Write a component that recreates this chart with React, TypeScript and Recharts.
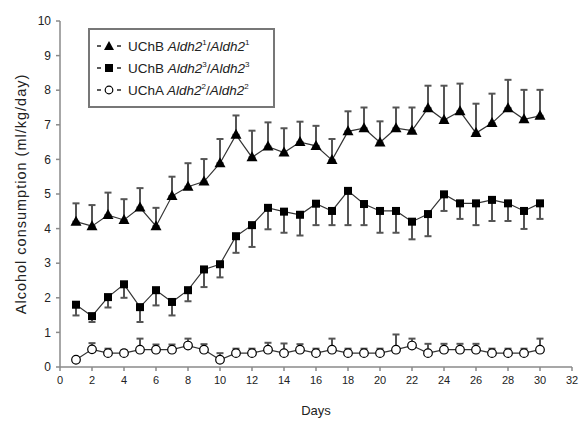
import { LineChart, Line, XAxis, YAxis, ErrorBar } from 'recharts';

const days = [1, 2, 3, 4, 5, 6, 7, 8, 9, 10, 11, 12, 13, 14, 15, 16, 17, 18, 19, 20, 21, 22, 23, 24, 25, 26, 27, 28, 29, 30];

// UChB Aldh2^1/Aldh2^1 (triangles), error drawn upward
const ucbOneMean = [4.2, 4.07, 4.39, 4.25, 4.61, 4.07, 4.94, 5.21, 5.36, 5.89, 6.71, 6.06, 6.37, 6.2, 6.5, 6.39, 5.98, 6.81, 6.9, 6.49, 6.9, 6.83, 7.48, 7.14, 7.39, 6.76, 7.05, 7.48, 7.16, 7.26];
const ucbOneUpper = [4.73, 4.68, 5.04, 4.85, 5.17, 4.6, 5.5, 5.89, 6.01, 6.59, 7.27, 6.83, 7.07, 6.9, 7.09, 6.97, 6.59, 7.39, 7.5, 7.1, 7.5, 7.5, 8.13, 8.13, 8.19, 7.61, 7.9, 8.3, 8.01, 8.01];

// UChB Aldh2^3/Aldh2^3 (squares), error drawn downward
const ucbThreeMean = [1.8, 1.47, 2.02, 2.39, 1.73, 2.22, 1.88, 2.22, 2.82, 2.97, 3.78, 4.1, 4.6, 4.49, 4.4, 4.72, 4.51, 5.09, 4.71, 4.51, 4.51, 4.2, 4.42, 4.99, 4.73, 4.73, 4.83, 4.73, 4.51, 4.73];
const ucbThreeLower = [1.49, 1.3, 1.72, 2.0, 1.3, 1.78, 1.49, 1.9, 2.31, 2.59, 3.3, 3.47, 3.98, 3.88, 3.8, 4.1, 4.1, 4.1, 4.1, 3.88, 3.88, 3.69, 3.78, 4.51, 4.28, 4.1, 4.22, 4.22, 3.99, 4.28];

// UChA Aldh2^2/Aldh2^2 (open circles), error drawn upward
const ucaTwoMean = [0.21, 0.51, 0.4, 0.4, 0.5, 0.5, 0.5, 0.62, 0.5, 0.21, 0.4, 0.4, 0.5, 0.4, 0.5, 0.4, 0.5, 0.4, 0.4, 0.4, 0.5, 0.62, 0.4, 0.5, 0.5, 0.5, 0.4, 0.4, 0.4, 0.5];
const ucaTwoUpper = [0.25, 0.69, 0.53, 0.48, 0.82, 0.65, 0.65, 0.82, 0.66, 0.4, 0.53, 0.53, 0.7, 0.68, 0.66, 0.53, 0.82, 0.53, 0.53, 0.53, 0.94, 0.82, 0.67, 0.67, 0.67, 0.67, 0.53, 0.53, 0.53, 0.82];

const xTicks = [0, 2, 4, 6, 8, 10, 12, 14, 16, 18, 20, 22, 24, 26, 28, 30, 32];
const yTicks = [0, 1, 2, 3, 4, 5, 6, 7, 8, 9, 10];

const data = days.map((d, i) => ({
  day: d,
  one: ucbOneMean[i],
  oneErr: [0, ucbOneUpper[i] - ucbOneMean[i]],
  three: ucbThreeMean[i],
  threeErr: [ucbThreeMean[i] - ucbThreeLower[i], 0],
  two: ucaTwoMean[i],
  twoErr: [0, ucaTwoUpper[i] - ucaTwoMean[i]],
}));

const AXIS = '#8a8a8a';
const INK = '#222';

function TriangleDot(props: any) {
  const { cx, cy } = props;
  if (cx == null || cy == null) return null;
  return <path d={`M${cx},${cy - 6} L${cx + 5.5},${cy + 4} L${cx - 5.5},${cy + 4} Z`} fill="#000" />;
}

function SquareDot(props: any) {
  const { cx, cy } = props;
  if (cx == null || cy == null) return null;
  return <rect x={cx - 4} y={cy - 4} width={8} height={8} fill="#000" />;
}

function CircleDot(props: any) {
  const { cx, cy } = props;
  if (cx == null || cy == null) return null;
  return <circle cx={cx} cy={cy} r={4.3} fill="#fff" stroke="#000" strokeWidth={1.2} />;
}

function LegendBox() {
  const row = { display: 'flex', alignItems: 'center', height: 22, whiteSpace: 'nowrap' as const };
  const mark = (shape: string) => (
    <svg width={28} height={12} style={{ marginRight: 4 }}>
      <line x1={1} y1={6} x2={5} y2={6} stroke="#000" strokeWidth={1.3} />
      <line x1={21} y1={6} x2={25} y2={6} stroke="#000" strokeWidth={1.3} />
      {shape === 'tri' && <path d="M13,1 L18,10 L8,10 Z" fill="#000" />}
      {shape === 'sq' && <rect x={9} y={2} width={8} height={8} fill="#000" />}
      {shape === 'circ' && <circle cx={13} cy={6} r={3.8} fill="#fff" stroke="#000" strokeWidth={1.2} />}
    </svg>
  );
  const label = (strain: string, allele: string) => (
    <span style={{ fontSize: 13.5, color: INK }}>
      {strain} <i>Aldh2</i><sup style={{ fontSize: 8 }}>{allele}</sup>/<i>Aldh2</i><sup style={{ fontSize: 8 }}>{allele}</sup>
    </span>
  );
  return (
    <div style={{ position: 'absolute', left: 88, top: 28, border: '2px solid #777', background: '#fff', padding: '5px 0 5px 6px', width: 177 }}>
      <div style={row}>{mark('tri')}{label('UChB', '1')}</div>
      <div style={row}>{mark('sq')}{label('UChB', '3')}</div>
      <div style={row}>{mark('circ')}{label('UChA', '2')}</div>
    </div>
  );
}

export default function App() {
  return (
    <div style={{ position: 'absolute', left: 0, top: 0, width: 579, height: 421, background: '#fff', fontFamily: '"Liberation Sans", Arial, sans-serif' }}>
      <LineChart width={579} height={421} data={data} margin={{ top: 21, right: 7, bottom: 0, left: 0 }}>
        <XAxis
          dataKey="day"
          type="number"
          domain={[0, 32]}
          ticks={xTicks}
          interval={0}
          tick={{ fontSize: 11, fill: INK }}
          tickSize={4}
          tickMargin={5}
          axisLine={{ stroke: AXIS, strokeWidth: 1.5 }}
          tickLine={{ stroke: AXIS, strokeWidth: 1.5 }}
          height={54}
          label={(p: any) => {
            const vb = p.viewBox;
            return (
              <text x={vb.x + vb.width / 2} y={415} textAnchor="middle" fontSize={13} fill={INK}>
                Days
              </text>
            );
          }}
        />
        <YAxis
          type="number"
          domain={[0, 10]}
          ticks={yTicks}
          interval={0}
          width={60}
          tick={{ fontSize: 12, fill: INK }}
          tickSize={4}
          tickMargin={5}
          axisLine={{ stroke: AXIS, strokeWidth: 1.5 }}
          tickLine={{ stroke: AXIS, strokeWidth: 1.5 }}
          label={(p: any) => {
            const vb = p.viewBox;
            const cy = vb.y + vb.height / 2;
            return (
              <text x={22} y={cy} transform={`rotate(-90, 22, ${cy})`} textAnchor="middle" dominantBaseline="middle" fontSize={14.5} fill={INK} letterSpacing={1}>
                Alcohol consumption (ml/kg/day)
              </text>
            );
          }}
        />
        <Line dataKey="one" stroke="#333" strokeWidth={1.2} dot={<TriangleDot />} activeDot={false} isAnimationActive={false}>
          <ErrorBar dataKey="oneErr" direction="y" width={3.5} stroke="#555" strokeWidth={2} />
        </Line>
        <Line dataKey="three" stroke="#333" strokeWidth={1.2} dot={<SquareDot />} activeDot={false} isAnimationActive={false}>
          <ErrorBar dataKey="threeErr" direction="y" width={3.5} stroke="#555" strokeWidth={2} />
        </Line>
        <Line dataKey="two" stroke="#333" strokeWidth={1.2} dot={<CircleDot />} activeDot={false} isAnimationActive={false}>
          <ErrorBar dataKey="twoErr" direction="y" width={3.5} stroke="#555" strokeWidth={2} />
        </Line>
      </LineChart>
      <LegendBox />
    </div>
  );
}
